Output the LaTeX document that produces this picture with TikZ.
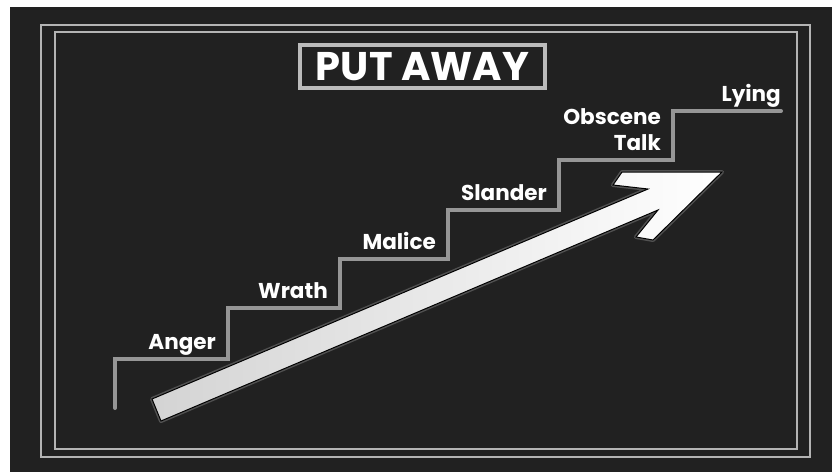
\documentclass[tikz,border=0pt]{standalone}
\usepackage{fontspec}
\setmainfont{Poppins}
\usepackage{tikz}
\usetikzlibrary{calc}
\definecolor{board}{HTML}{212121}
\definecolor{chalkline}{HTML}{B4B4B4}
\definecolor{stairgray}{HTML}{969696}

\begin{document}
\begin{tikzpicture}[x=1pt, y=-1pt,
    frameline/.style={draw=chalkline, line width=2.2pt},
    stair/.style={draw=stairgray, line width=4pt, line cap=round, line join=miter},
    steplbl/.style={anchor=base east, yshift=10pt, text=white,
                    font=\fontsize{21.5}{26}\selectfont\bfseries, align=right, inner sep=0pt},
    titlebox/.style={draw=chalkline!90, line width=4pt, fill=board, text=white,
                     minimum width=245pt, minimum height=43pt, inner sep=0pt,
                     font=\fontsize{40}{44}\selectfont\bfseries}]
  \useasboundingbox (0,0) rectangle (832,472);
  \fill[board] (10,7) rectangle (832,472);
  \draw[frameline] (41,25) rectangle (810,457);
  \draw[frameline] (55,32) rectangle (797,449);
  \node[titlebox] (title) at (422.5,66.5) {PUT AWAY};

  \coordinate (st0) at (115,408);
  \foreach \x/\y [count=\i] in {115/359,228/308,340/259,448/210,559/160,673/111,781/111}
    \coordinate (up\i) at (\x,\y);
  \draw[stair] (st0) -- (up1) \foreach \i in {2,...,6}{ -| (up\i) } -- (up7);

  \foreach \i/\j/\txt in {1/2/Anger, 2/3/Wrath, 3/4/Malice, 4/5/Slander,
                          5/6/{Obscene\\Talk}}
    \node[steplbl, xshift=-12pt] (lbl\i) at (up\j |- up\i) {\txt};
  \node[steplbl] (lbl6) at (up7) {Lying};

  \coordinate (a1) at (152,399);
  \coordinate (a2) at (648,189);
  \coordinate (a3) at (613,185);
  \coordinate (a4) at (622,172);
  \coordinate (tip) at (722,172);
  \coordinate (a6) at (653,240);
  \coordinate (a7) at (636,237);
  \coordinate (a8) at (658,210);
  \coordinate (a9) at (161,421);
  \draw[black!40, line width=4pt, opacity=.4, line join=round]
    (a1) -- (a2) -- (a3) -- (a4) -- (tip) -- (a6) -- (a7) -- (a8) -- (a9) -- cycle;
  \path[draw=black, line width=1pt, left color=black!17, right color=white, shading angle=90]
    (a1) -- (a2) -- (a3) -- (a4) -- (tip) -- (a6) -- (a7) -- (a8) -- (a9) -- cycle;
\end{tikzpicture}
\end{document}
